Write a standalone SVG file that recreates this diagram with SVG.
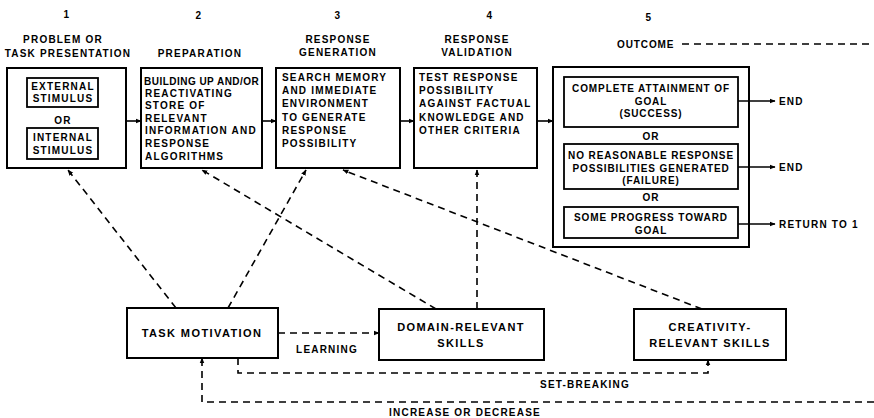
<svg xmlns="http://www.w3.org/2000/svg" width="874" height="418" viewBox="0 0 874 418">
<defs>
<marker id="ah" viewBox="0 0 10 10" refX="9" refY="5" markerWidth="6" markerHeight="6" orient="auto" markerUnits="userSpaceOnUse">
<path d="M0,1 L10,5 L0,9 z" fill="#000"/>
</marker>
<style>
text{font-family:"Liberation Sans",Arial,sans-serif;font-weight:bold;font-size:10px;letter-spacing:1.2px;fill:#000}
.c{text-anchor:middle}
.o{letter-spacing:0.9px}
.big{font-size:11px;letter-spacing:1.4px}
.box{fill:#fff;stroke:#000;stroke-width:2}
.ib{fill:none;stroke:#000;stroke-width:1.8}
.solid{fill:none;stroke:#000;stroke-width:1.6}
.dash{fill:none;stroke:#000;stroke-width:1.6;stroke-dasharray:7 5}
</style>
</defs>
<rect width="874" height="418" fill="#fff"/>

<g id="headers">
<text class="c" x="67" y="18">1</text>
<text class="c" x="199" y="19">2</text>
<text class="c" x="338" y="19">3</text>
<text class="c" x="490" y="19">4</text>
<text class="c" x="649" y="21">5</text>
<text class="c" x="63" y="43">PROBLEM OR</text>
<text class="c" x="68" y="57">TASK PRESENTATION</text>
<text class="c" x="200" y="57">PREPARATION</text>
<text class="c" x="338" y="43">RESPONSE</text>
<text class="c" x="338" y="56">GENERATION</text>
<text class="c" x="477" y="43">RESPONSE</text>
<text class="c" x="477" y="56">VALIDATION</text>
<text class="o" x="617" y="48">OUTCOME</text>
</g>

<g id="box1">
<rect class="box" x="7" y="68" width="119" height="100"/>
<rect class="ib" x="27" y="78" width="71" height="29"/>
<text class="c" x="63" y="90">EXTERNAL</text>
<text class="c" x="63" y="102">STIMULUS</text>
<text class="c" x="63" y="124">OR</text>
<rect class="ib" x="27" y="128" width="71" height="31"/>
<text class="c" x="63" y="141">INTERNAL</text>
<text class="c" x="63" y="154">STIMULUS</text>
</g>

<g id="box2">
<rect class="box" x="141" y="68" width="121" height="100"/>
<text x="144" y="85" textLength="116" lengthAdjust="spacing">BUILDING UP AND/OR</text>
<text x="145" y="97">REACTIVATING</text>
<text x="145" y="109">STORE OF</text>
<text x="145" y="122">RELEVANT</text>
<text x="145" y="134">INFORMATION AND</text>
<text x="145" y="147">RESPONSE</text>
<text x="145" y="160">ALGORITHMS</text>
</g>

<g id="box3">
<rect class="box" x="276" y="68" width="124" height="100"/>
<text x="282" y="81">SEARCH MEMORY</text>
<text x="282" y="94">AND IMMEDIATE</text>
<text x="282" y="107">ENVIRONMENT</text>
<text x="282" y="121">TO GENERATE</text>
<text x="282" y="134">RESPONSE</text>
<text x="282" y="147">POSSIBILITY</text>
</g>

<g id="box4">
<rect class="box" x="414" y="68" width="123" height="100"/>
<text x="419" y="81">TEST RESPONSE</text>
<text x="419" y="94">POSSIBILITY</text>
<text x="419" y="107">AGAINST FACTUAL</text>
<text x="419" y="121">KNOWLEDGE AND</text>
<text x="419" y="134">OTHER CRITERIA</text>
</g>

<g id="box5">
<rect class="box" x="553" y="67" width="196" height="180"/>
<rect class="ib" x="564" y="77" width="174" height="50"/>
<text class="c o" x="651" y="92">COMPLETE ATTAINMENT OF</text>
<text class="c o" x="651" y="105">GOAL</text>
<text class="c o" x="651" y="117">(SUCCESS)</text>
<text class="c o" x="651" y="140">OR</text>
<rect class="ib" x="564" y="144" width="174" height="45"/>
<text class="c o" x="651" y="159">NO REASONABLE RESPONSE</text>
<text class="c o" x="651" y="172">POSSIBILITIES GENERATED</text>
<text class="c o" x="651" y="184">(FAILURE)</text>
<text class="c o" x="651" y="201">OR</text>
<rect class="ib" x="564" y="207" width="174" height="31"/>
<text class="c o" x="651" y="221">SOME PROGRESS TOWARD</text>
<text class="c o" x="651" y="234">GOAL</text>
</g>

<g id="end1"><text x="779" y="105">END</text></g>
<g id="end2"><text x="779" y="171">END</text></g>
<g id="return"><text x="779" y="228">RETURN TO 1</text></g>

<g id="task-motivation">
<rect class="box" x="127" y="308" width="151" height="50"/>
<text class="c big" x="202" y="337">TASK MOTIVATION</text>
</g>

<g id="domain-skills">
<rect class="box" x="379" y="309" width="165" height="51"/>
<text class="c big" x="461" y="331">DOMAIN-RELEVANT</text>
<text class="c big" x="461" y="347">SKILLS</text>
</g>

<g id="creativity-skills">
<rect class="box" x="634" y="309" width="152" height="51"/>
<text class="c big" x="710" y="331">CREATIVITY-</text>
<text class="c big" x="710" y="347">RELEVANT SKILLS</text>
</g>

<g id="connectors">
<line class="solid" x1="126" y1="121" x2="141" y2="121" marker-end="url(#ah)"/>
<line class="solid" x1="262" y1="121" x2="276" y2="121" marker-end="url(#ah)"/>
<line class="solid" x1="400" y1="121" x2="414" y2="121" marker-end="url(#ah)"/>
<line class="solid" x1="537" y1="121" x2="553" y2="121" marker-end="url(#ah)"/>
<line class="solid" x1="738" y1="101" x2="775" y2="101" marker-end="url(#ah)"/>
<line class="solid" x1="738" y1="167" x2="775" y2="167" marker-end="url(#ah)"/>
<line class="solid" x1="738" y1="224" x2="775" y2="224" marker-end="url(#ah)"/>
<line class="dash" x1="682" y1="44" x2="874" y2="44"/>
<line class="dash" x1="176" y1="308" x2="68" y2="170" marker-end="url(#ah)"/>
<line class="dash" x1="228" y1="308" x2="306" y2="170" marker-end="url(#ah)"/>
<line class="dash" x1="436" y1="309" x2="202" y2="170" marker-end="url(#ah)"/>
<line class="dash" x1="477" y1="309" x2="477" y2="170" marker-end="url(#ah)"/>
<line class="dash" x1="702" y1="309" x2="343" y2="170" marker-end="url(#ah)"/>
<line class="dash" x1="278" y1="333" x2="379" y2="333" marker-end="url(#ah)"/>
<path class="dash" d="M238,358 V373 H708 V360" marker-end="url(#ah)"/>
<path class="dash" d="M874,402 H202 V358" marker-end="url(#ah)"/>
<text class="c" x="327" y="353">LEARNING</text>
<text class="c" x="585" y="388">SET-BREAKING</text>
<text class="c" x="465" y="416">INCREASE OR DECREASE</text>
</g>
</svg>
